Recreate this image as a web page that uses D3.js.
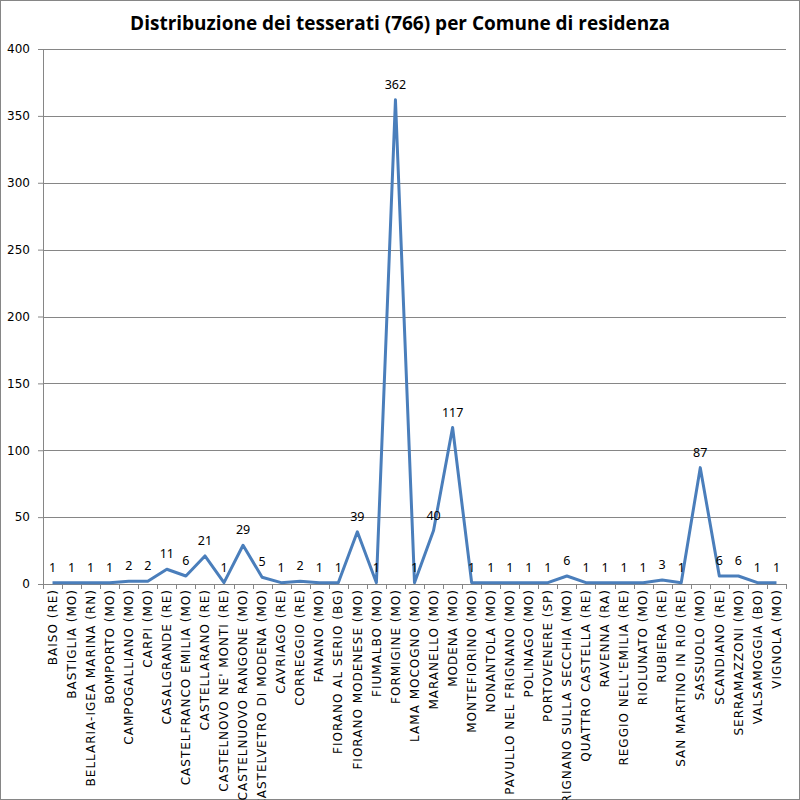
<!DOCTYPE html>
<html lang="it">
<head>
    <meta charset="UTF-8">
    <title>Distribuzione dei tesserati per Comune di residenza</title>
    <script src="https://d3js.org/d3.v7.min.js"></script>
    <style>
        body { margin: 0; background: #fff; }
        svg { display: block; }
        .title { font-family: "Open Sans", "Noto Sans", sans-serif; font-weight: bold; font-size: 19px; }
        .tick text { font-family: "DejaVu Sans", Verdana, sans-serif; fill: #000; }
        .lbl { font-family: "Noto Sans", "Open Sans", sans-serif; font-size: 12.5px; }
    </style>
</head>
<body>
    <svg id="chart"></svg>
    <script>
        const comuni = [
            "BAISO (RE)", "BASTIGLIA (MO)", "BELLARIA-IGEA MARINA (RN)", "BOMPORTO (MO)",
            "CAMPOGALLIANO (MO)", "CARPI (MO)", "CASALGRANDE (RE)", "CASTELFRANCO EMILIA (MO)",
            "CASTELLARANO (RE)", "CASTELNOVO NE' MONTI (RE)", "CASTELNUOVO RANGONE (MO)",
            "CASTELVETRO DI MODENA (MO)", "CAVRIAGO (RE)", "CORREGGIO (RE)", "FANANO (MO)",
            "FIORANO AL SERIO (BG)", "FIORANO MODENESE (MO)", "FIUMALBO (MO)", "FORMIGINE (MO)",
            "LAMA MOCOGNO (MO)", "MARANELLO (MO)", "MODENA (MO)", "MONTEFIORINO (MO)",
            "NONANTOLA (MO)", "PAVULLO NEL FRIGNANO (MO)", "POLINAGO (MO)", "PORTOVENERE (SP)",
            "PRIGNANO SULLA SECCHIA (MO)", "QUATTRO CASTELLA (RE)", "RAVENNA (RA)",
            "REGGIO NELL'EMILIA (RE)", "RIOLUNATO (MO)", "RUBIERA (RE)", "SAN MARTINO IN RIO (RE)",
            "SASSUOLO (MO)", "SCANDIANO (RE)", "SERRAMAZZONI (MO)", "VALSAMOGGIA (BO)", "VIGNOLA (MO)"
        ];
        const tesserati = [
            1, 1, 1, 1, 2, 2, 11, 6, 21, 1, 29, 5, 1, 2, 1, 1, 39, 1, 362, 1,
            40, 117, 1, 1, 1, 1, 1, 6, 1, 1, 1, 1, 3, 1, 87, 6, 6, 1, 1
        ];
        const yTicks = [0, 50, 100, 150, 200, 250, 300, 350, 400];

        const width = 800, height = 800;
        const margin = { top: 49, right: 14, bottom: 216, left: 43 };
        const chartWidth = width - margin.left - margin.right;
        const chartHeight = height - margin.top - margin.bottom;

        const svg = d3.select("#chart")
            .attr("width", width)
            .attr("height", height);

        svg.append("rect")
            .attr("x", 0.5).attr("y", 0.5)
            .attr("width", width - 1).attr("height", height - 1)
            .attr("fill", "#fff").attr("stroke", "#868686");

        svg.append("text")
            .attr("class", "title")
            .attr("x", width / 2)
            .attr("y", 30)
            .attr("text-anchor", "middle")
            .text("Distribuzione dei tesserati (766) per Comune di residenza");

        const chart = svg.append("g")
            .attr("transform", `translate(${margin.left},${margin.top})`);

        const xScale = d3.scaleBand()
            .domain(comuni)
            .range([0, chartWidth]);

        const yScale = d3.scaleLinear()
            .domain([0, 400])
            .range([chartHeight, 0]);

        // gridlines
        chart.append("g")
            .selectAll("line")
            .data(yTicks.filter(d => d > 0))
            .enter().append("line")
            .attr("x1", 0).attr("x2", chartWidth)
            .attr("y1", d => Math.round(yScale(d)) + 0.5)
            .attr("y2", d => Math.round(yScale(d)) + 0.5)
            .attr("stroke", "#868686");

        // y axis
        const yAxis = chart.append("g")
            .call(d3.axisLeft(yScale).tickValues(yTicks).tickSize(5).tickPadding(8));
        yAxis.selectAll("text").style("font-size", "12px");
        yAxis.selectAll("line, path").attr("stroke", "#868686");

        // x axis, ticks between categories
        const xAxis = chart.append("g")
            .attr("transform", `translate(0,${chartHeight})`)
            .call(d3.axisBottom(xScale).tickSizeOuter(0).tickSize(0));
        xAxis.select("path").attr("stroke", "#868686");
        xAxis.selectAll("text")
            .style("font-size", "12px")
            .style("letter-spacing", "1px")
            .attr("transform", "rotate(-90)")
            .attr("x", -5)
            .attr("y", 0)
            .attr("dy", "0.35em")
            .style("text-anchor", "end");
        xAxis.append("g")
            .selectAll("line")
            .data(comuni.concat([null]))
            .enter().append("line")
            .attr("x1", (d, i) => Math.round(i * xScale.bandwidth()) + 0.5)
            .attr("x2", (d, i) => Math.round(i * xScale.bandwidth()) + 0.5)
            .attr("y1", 0).attr("y2", 5)
            .attr("stroke", "#868686");

        const cx = d => xScale(d) + xScale.bandwidth() / 2;

        const line = d3.line()
            .x((d, i) => cx(comuni[i]))
            .y(d => yScale(d));

        chart.append("path")
            .datum(tesserati)
            .attr("fill", "none")
            .attr("stroke", "#4a7ebb")
            .attr("stroke-width", 3)
            .attr("stroke-linejoin", "round")
            .attr("d", line);

        chart.selectAll(".lbl")
            .data(tesserati)
            .enter().append("text")
            .attr("class", "lbl")
            .attr("x", (d, i) => cx(comuni[i]))
            .attr("y", d => yScale(d) - 11)
            .attr("text-anchor", "middle")
            .text(d => d);
    </script>
</body>
</html>
